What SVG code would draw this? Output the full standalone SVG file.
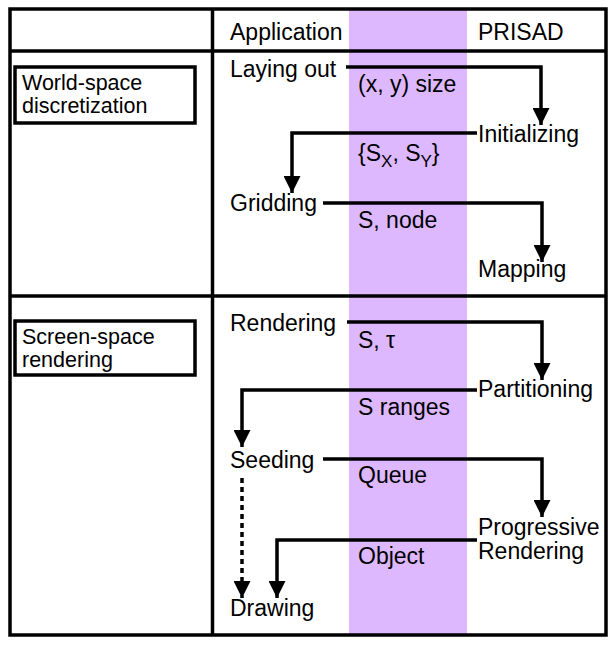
<svg xmlns="http://www.w3.org/2000/svg" width="615" height="645" viewBox="0 0 615 645">
<style>
text{font-family:"Liberation Sans",Arial,sans-serif;font-size:23px;fill:#000}
.box text{font-size:21.5px}
.frame{fill:none;stroke:#000;stroke-width:3.5}
.conn{fill:none;stroke:#000;stroke-width:3.5;marker-end:url(#ah)}
.dot{stroke-dasharray:5,4}
</style>
<defs>
<marker id="ah" markerUnits="userSpaceOnUse" markerWidth="17" markerHeight="17" refX="17" refY="8.5" orient="auto" viewBox="0 0 17 17">
<polygon points="0,0 17,8.5 0,17" fill="#000"/>
</marker>
</defs>
<rect x="0" y="0" width="615" height="645" fill="#fff"/>
<rect x="349" y="10" width="118" height="624" fill="#ddb8ff"/>
<g id="table">
<rect class="frame" x="10" y="9" width="596" height="626"/>
<line class="frame" x1="212.5" y1="9" x2="212.5" y2="635"/>
<line class="frame" x1="10" y1="51" x2="606" y2="51"/>
<line class="frame" x1="10" y1="296" x2="606" y2="296"/>
</g>
<g id="header">
<text x="230" y="40">Application</text>
<text x="478" y="40">PRISAD</text>
</g>
<g id="world-space" class="box">
<rect class="frame" x="15" y="67" width="180" height="56"/>
<text x="22" y="90">World-space</text>
<text x="22" y="113">discretization</text>
</g>
<g id="screen-space" class="box">
<rect class="frame" x="15" y="321" width="180" height="54"/>
<text x="22" y="344">Screen-space</text>
<text x="22" y="367">rendering</text>
</g>
<g id="laying-out"><text x="230" y="77">Laying out</text></g>
<g id="initializing"><text x="478" y="142">Initializing</text></g>
<g id="gridding"><text x="230" y="211">Gridding</text></g>
<g id="mapping"><text x="478" y="277">Mapping</text></g>
<g id="rendering"><text x="230" y="331">Rendering</text></g>
<g id="partitioning"><text x="478" y="397">Partitioning</text></g>
<g id="seeding"><text x="230" y="468">Seeding</text></g>
<g id="progressive-rendering"><text x="478" y="535">Progressive</text><text x="478" y="559">Rendering</text></g>
<g id="drawing"><text x="230" y="616">Drawing</text></g>
<g id="connectors">
<path class="conn" d="M346,67 H541 V125"/>
<path class="conn" d="M477,133 H292 V193"/>
<path class="conn" d="M323,203 H542 V262"/>
<path class="conn" d="M347,322 H542 V380"/>
<path class="conn" d="M477,390 H242 V447"/>
<path class="conn" d="M323,459 H542 V517"/>
<path class="conn" d="M477,540 H277 V598"/>
<path class="conn dot" d="M242,478 V598"/>
</g>
<g id="labels">
<text x="358" y="92">(x, y) size</text>
<text x="358" y="161">{S<tspan font-size="17" dy="6">X</tspan><tspan dy="-6">, S</tspan><tspan font-size="17" dy="6">Y</tspan><tspan dy="-6">}</tspan></text>
<text x="358" y="228">S, node</text>
<text x="358" y="348">S, τ</text>
<text x="358" y="415">S ranges</text>
<text x="358" y="483">Queue</text>
<text x="358" y="564">Object</text>
</g>
</svg>
